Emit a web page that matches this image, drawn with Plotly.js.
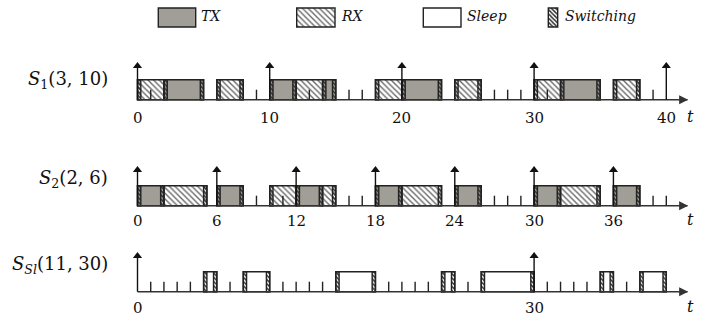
<!DOCTYPE html>
<html><head><meta charset="utf-8">
<script src="https://cdn.plot.ly/plotly-3.0.1.min.js"></script>
<style>html,body{margin:0;padding:0;background:#fff}#chart{width:716px;height:320px}</style>
</head><body><div id="chart"></div>
<script>
// ---------- data (time units) ----------
const rowNames = ["<i>S</i><sub>1</sub>(3, 10)", "<i>S</i><sub>2</sub>(2, 6)", "<i>S</i><sub><i>Sl</i></sub>(11, 30)"];
const legendLabels = ["TX", "RX", "Sleep", "Switching"];

const s1TxStart = [2, 10, 14, 20, 32];
const s1TxEnd   = [5, 12, 15, 23, 35];
const s1RxStart = [0, 6, 12, 18, 24, 30, 36];
const s1RxEnd   = [2, 8, 14, 20, 26, 32, 38];
const s1Switch  = [0, 2, 4.75, 6, 7.75, 10, 11.75, 14, 14.75, 18, 20, 22.75, 24, 25.75, 30, 32, 34.75, 36, 37.75];
const s1Ticks   = [1, 9, 13, 16, 17, 27, 28, 29, 31, 39];
const s1Arrows  = [0, 10, 20, 30, 40];
const s1TickLabels = [0, 10, 20, 30, 40];

const s2TxStart = [0, 6, 12, 18, 24, 30, 36];
const s2TxEnd   = [2, 8, 14, 20, 26, 32, 38];
const s2RxStart = [2, 10, 14, 20, 32];
const s2RxEnd   = [5.25, 12, 15, 23, 35];
const s2Switch  = [0, 1.75, 5, 6, 7.75, 10, 12, 13.75, 14.75, 18, 19.75, 22.75, 24, 25.75, 30, 31.75, 34.75, 36, 37.75];
const s2Ticks   = [9, 11, 16, 17, 27, 28, 29, 39, 40];
const s2Arrows  = [0, 6, 12, 18, 24, 30, 36];
const s2TickLabels = [0, 6, 12, 18, 24, 30, 36];

const s3SleepStart = [5, 8, 15, 23, 26, 35, 38];
const s3SleepEnd   = [6, 10, 18, 24, 30, 36, 40];
const s3Switch  = [5, 5.75, 8, 9.75, 15, 17.75, 23, 23.75, 26, 29.75, 35, 35.75, 38, 39.75];
const s3Ticks   = [1, 2, 3, 4, 7, 11, 12, 13, 14, 19, 20, 21, 22, 25, 31, 32, 33, 34, 37];
const s3Arrows  = [0, 30];
const s3TickLabels = [0, 30];

const switchDuration = 0.25;
const axisEnd = 42;

// ---------- layout constants (pixels) ----------
const W = 716, H = 320;
const X0PX = 137.5, PXU = 13.22;
const BOX_H = 20, TICK_H = 10;
const SERIF = "DejaVu Serif";
const OUT = "#222";

const styles = {
  TX: {color: "#a19d97"},
  RX: {color: "#ffffff", pattern: {shape: "\\", fgcolor: "#6a6a6a", size: 4, solidity: 0.35}},
  Sleep: {color: "#ffffff"},
  Switch: {color: "#8a8a8a", pattern: {shape: "\\", fgcolor: "#2e2e2e", size: 3, solidity: 0.5}}
};

const rows = [
  {base: 99.7, top: 63, lab: 118, nameY: 80, tx: [s1TxStart, s1TxEnd], rx: [s1RxStart, s1RxEnd], sw: s1Switch, ticks: s1Ticks, arrows: s1Arrows, labels: s1TickLabels},
  {base: 205.7, top: 167, lab: 221, nameY: 179, tx: [s2TxStart, s2TxEnd], rx: [s2RxStart, s2RxEnd], sw: s2Switch, ticks: s2Ticks, arrows: s2Arrows, labels: s2TickLabels},
  {base: 291.7, top: 253, lab: 308, nameY: 265, sl: [s3SleepStart, s3SleepEnd], sw: s3Switch, ticks: s3Ticks, arrows: s3Arrows, labels: s3TickLabels}
];

const traces = [];
const annotations = [];

function barTrace(starts, ends, yc, style, xaxis) {
  return {
    type: "bar", orientation: "h", xaxis: xaxis || "x", yaxis: "y",
    base: starts, x: starts.map((s, i) => ends[i] - s),
    y: starts.map(() => yc), width: BOX_H,
    marker: Object.assign({line: {color: OUT, width: 1.4}}, style),
    hoverinfo: "skip", showlegend: false
  };
}

rows.forEach((r, ri) => {
  const yc = r.base - BOX_H / 2;
  traces.push({type: "scatter", mode: "lines", x: [0, axisEnd - 0.4], y: [r.base, r.base],
    line: {color: "#333", width: 1.4}, hoverinfo: "skip", showlegend: false});
  traces.push({type: "scatter", mode: "markers", x: [axisEnd - 0.35], y: [r.base],
    marker: {symbol: "arrow-right", size: 9, color: "#333", line: {width: 0}}, hoverinfo: "skip", showlegend: false});
  if (r.tx) traces.push(barTrace(r.tx[0], r.tx[1], yc, styles.TX));
  if (r.rx) traces.push(barTrace(r.rx[0], r.rx[1], yc, styles.RX));
  if (r.sl) traces.push(barTrace(r.sl[0], r.sl[1], yc, styles.Sleep));
  traces.push(barTrace(r.sw, r.sw.map(s => s + switchDuration), yc, styles.Switch));
  const tx = [], ty = [];
  r.ticks.forEach(t => { tx.push(t, t, null); ty.push(r.base, r.base - TICK_H, null); });
  traces.push({type: "scatter", mode: "lines", x: tx, y: ty, line: {color: OUT, width: 1.4},
    hoverinfo: "skip", showlegend: false});
  const ax = [], ay = [];
  r.arrows.forEach(t => { ax.push(t, t, null); ay.push(r.base, r.top + 3, null); });
  traces.push({type: "scatter", mode: "lines", x: ax, y: ay, line: {color: "#111", width: 1.4},
    hoverinfo: "skip", showlegend: false});
  traces.push({type: "scatter", mode: "markers", x: r.arrows, y: r.arrows.map(() => r.top + 3),
    marker: {symbol: "triangle-up", size: 8, color: "#111", line: {width: 0}}, hoverinfo: "skip", showlegend: false});
  r.labels.forEach(v => annotations.push({x: v, y: r.lab, xref: "x", yref: "y", text: String(v),
    showarrow: false, xanchor: "center", yanchor: "middle", font: {family: SERIF, size: 15, color: "#111"}}));
  annotations.push({x: (690 - X0PX) / PXU, y: r.lab - 2, xref: "x", yref: "y", text: "<i>t</i>",
    showarrow: false, xanchor: "center", yanchor: "middle", font: {family: SERIF, size: 16, color: "#111"}});
  annotations.push({x: 110 / W, y: r.nameY, xref: "paper", yref: "y", text: rowNames[ri], showarrow: false,
    xanchor: "right", yanchor: "middle", font: {family: SERIF, size: 18, color: "#111"}});
});

const legendBoxes = [[158.3, 195.7], [296.7, 335], [423.3, 461], [548.3, 557.7]];
const legendStyles = [styles.TX, styles.RX, styles.Sleep, styles.Switch];
const legendTextX = [199, 339, 465, 563];
legendBoxes.forEach((b, i) => {
  const tr = barTrace([b[0]], [b[1]], 17.5, legendStyles[i], "x2");
  tr.width = 19;
  traces.push(tr);
  annotations.push({x: legendTextX[i], y: 16, xref: "x2", yref: "y", text: "<i>" + legendLabels[i] + "</i>",
    showarrow: false, xanchor: "left", yanchor: "middle", font: {family: SERIF, size: 14, color: "#111"}});
});

const layout = {
  width: W, height: H, margin: {l: 0, r: 0, t: 0, b: 0},
  paper_bgcolor: "#fff", plot_bgcolor: "#fff",
  font: {family: SERIF},
  barmode: "overlay", hovermode: false,
  xaxis: {range: [-X0PX / PXU, (W - X0PX) / PXU], visible: false, fixedrange: true},
  xaxis2: {range: [0, W], overlaying: "x", visible: false, fixedrange: true},
  yaxis: {range: [H, 0], visible: false, fixedrange: true},
  annotations: annotations, showlegend: false
};

Plotly.newPlot("chart", traces, layout, {displayModeBar: false, staticPlot: true});
</script></body></html>
